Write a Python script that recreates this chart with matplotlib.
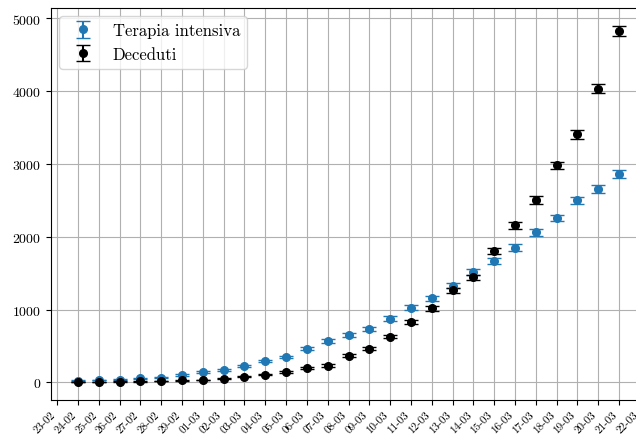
import numpy as np
import matplotlib
matplotlib.use("Agg")
import matplotlib.pyplot as plt
import matplotlib.dates as mdates
from datetime import datetime, timedelta

plt.rcParams["font.family"] = ["cmr10", "DejaVu Serif"]
plt.rcParams["mathtext.fontset"] = "cm"
plt.rcParams["axes.formatter.use_mathtext"] = True
plt.rcParams["font.size"] = 10

# Daily national totals, 24 Feb - 21 Mar 2020
dates = [datetime(2020, 2, 24) + timedelta(days=i) for i in range(27)]
terapia_intensiva = [26, 35, 36, 56, 64, 105, 140, 166, 229, 295, 351, 462, 567,
                     650, 733, 877, 1028, 1153, 1328, 1518, 1672, 1851, 2060,
                     2257, 2498, 2655, 2857]
deceduti = [7, 10, 12, 17, 21, 29, 34, 52, 79, 107, 148, 197, 233, 366, 463,
            631, 827, 1016, 1266, 1441, 1809, 2158, 2503, 2978, 3405, 4032, 4825]

ti = np.array(terapia_intensiva, dtype=float)
dec = np.array(deceduti, dtype=float)

fig = plt.figure(figsize=(6.36, 4.35), dpi=100)
W, H = 636, 435
ax = fig.add_axes([51 / W, 1 - 401 / H, (646 - 51) / W, (401 - 9) / H])

# Poisson counting uncertainty on each daily total
ax.errorbar(dates, ti, yerr=np.sqrt(ti), fmt="o", color="#1f77b4",
            markersize=5.5, capsize=5, label="Terapia intensiva")
ax.errorbar(dates, dec, yerr=np.sqrt(dec), fmt="o", color="black",
            markersize=5.5, capsize=5, label="Deceduti")

ax.set_yticks([0, 1000, 2000, 3000, 4000, 5000])

ax.xaxis.set_major_locator(mdates.DayLocator())
ax.xaxis.set_major_formatter(mdates.DateFormatter("%d-%m"))
plt.setp(ax.get_xticklabels(), rotation=45, ha="right", fontsize=8)

ax.grid(True)
ax.legend(loc="upper left", fontsize=12)

fig.savefig("out.png", dpi=100)
